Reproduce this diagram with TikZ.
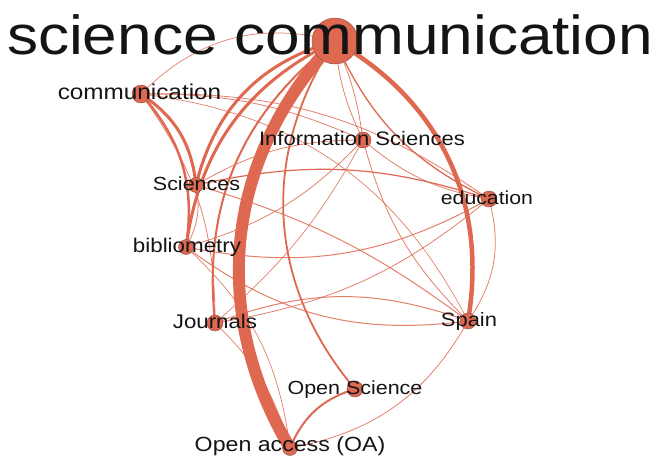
\documentclass[tikz,border=0pt]{standalone}
\usepackage{fontspec}
\newfontfamily\lblfont{Liberation Sans}[FakeStretch=1.13]
\usetikzlibrary{backgrounds}
\definecolor{edgec}{RGB}{222,104,80}
\definecolor{nodeline}{RGB}{140,80,70}
\definecolor{txt}{RGB}{20,20,20}
\begin{document}
\begin{tikzpicture}[x=1pt,y=1pt,
  dot/.style={circle,fill=edgec,draw=nodeline,line width=0.4pt,inner sep=0pt,minimum size=#1},
  lbl/.style={anchor=base,inner sep=0pt,text=txt,font=\lblfont\fontsize{#1}{#1}\selectfont},
  ed/.style={draw=edgec,line width=#1},
  thin ed/.style={draw=edgec,line width=#1,opacity=0.85},
]
\useasboundingbox (0,0) rectangle (657,-456);
% nodes (circles)
\node[dot=46pt] (SC)  at (335,-41)  {};
\node[dot=18pt] (com) at (141,-94)  {};
\node[dot=16pt] (IS)  at (363,-140) {};
\node[dot=15pt] (Sci) at (196,-185) {};
\node[dot=16pt] (edu) at (489,-199) {};
\node[dot=15pt] (bib) at (186,-247) {};
\node[dot=16pt] (Jou) at (215,-323) {};
\node[dot=16pt] (Spa) at (468,-321) {};
\node[dot=16pt] (OS)  at (355,-389) {};
\node[dot=15pt] (OA)  at (290,-448) {};
% labels
\node[lbl=55] (tSC)  at (330,-54)  {science communication};
\node[lbl=21.5] (tcom) at (139.5,-99) {communication};
\node[lbl=19.5] (tIS) at (362,-145) {Information Sciences};
\node[lbl=19] (tSci) at (196.5,-190) {Sciences};
\node[lbl=18.8] (tedu) at (487,-204) {education};
\node[lbl=19.8] (tbib) at (187,-252) {bibliometry};
\node[lbl=19.7] (tJou) at (215,-328) {Journals};
\node[lbl=19.4] (tSpa) at (469,-326) {Spain};
\node[lbl=19] (tOS) at (355,-394) {Open Science};
\node[lbl=20.5] (tOA) at (290,-451.5) {Open access (OA)};
% edges
\begin{scope}[on background layer]
\draw[ed=12]  (SC.center) to[bend right=37] (OA.center);
\draw[ed=4.5] (SC.center) to[bend left=35]  (Spa.center);
\draw[ed=3]   (SC.center) to[bend right=30] (Sci.center);
\draw[ed=3]   (SC.center) to[bend right=28] (bib.center);
\draw[ed=2]   (SC.center) to[bend right=29] (Jou.center);
\draw[ed=1.8] (SC.center) to[bend right=37] (OS.center);
\draw[thin ed=0.8] (SC.center) to[bend right=10] (IS.center);
\draw[thin ed=0.8] (SC.center) to[bend left=8] (IS.center);
\draw[ed=1.3] (SC.center) to[bend right=20] (edu.center);
\draw[thin ed=0.7] (com.center) to[bend left=30] (SC.center);
\draw[ed=3]   (com.center) to[bend left=25] (Sci.center);
\draw[ed=2.5] (com.center) to[bend left=25] (bib.center);
\draw[thin ed=0.8] (com.center) to[bend left=18] (edu.center);
\draw[thin ed=0.7] (com.center) to[bend left=28] (Spa.center);
\draw[thin ed=0.8] (com.center) to[bend left=12] (IS.center);
\draw[thin ed=0.8] (com.center) to[bend left=18] (Jou.center);
\draw[ed=1.2] (Sci.center) to[bend left=15] (edu.center);
\draw[thin ed=1] (Sci.center) to[bend left=10] (Spa.center);
\draw[thin ed=0.8] (Sci.center) to[bend left=15] (IS.center);
\draw[thin ed=0.8] (Sci.center) to[bend left=20] (bib.center);
\draw[thin ed=1] (bib.center) to[bend right=20] (edu.center);
\draw[thin ed=1] (bib.center) to[bend right=22] (Spa.center);
\draw[thin ed=0.8] (bib.center) to[bend right=15] (IS.center);
\draw[thin ed=0.7] (bib.center) to[bend left=20] (OA.center);
\draw[thin ed=1] (Jou.center) to[bend left=20] (Spa.center);
\draw[thin ed=0.8] (Jou.center) to[bend right=15] (edu.center);
\draw[thin ed=0.7] (Jou.center) to[bend left=15] (OA.center);
\draw[thin ed=0.7] (IS.center) to[bend left=10] (Jou.center);
\draw[thin ed=0.8] (IS.center) to[bend right=15] (edu.center);
\draw[thin ed=0.8] (IS.center) to[bend right=15] (Spa.center);
\draw[ed=2]   (OS.center) to[bend right=25] (OA.center);
\draw[thin ed=0.8] (Spa.center) to[bend left=25] (OA.center);
\draw[thin ed=0.8] (Spa.center) to[bend right=25] (edu.center);
\end{scope}
\end{tikzpicture}
\end{document}
